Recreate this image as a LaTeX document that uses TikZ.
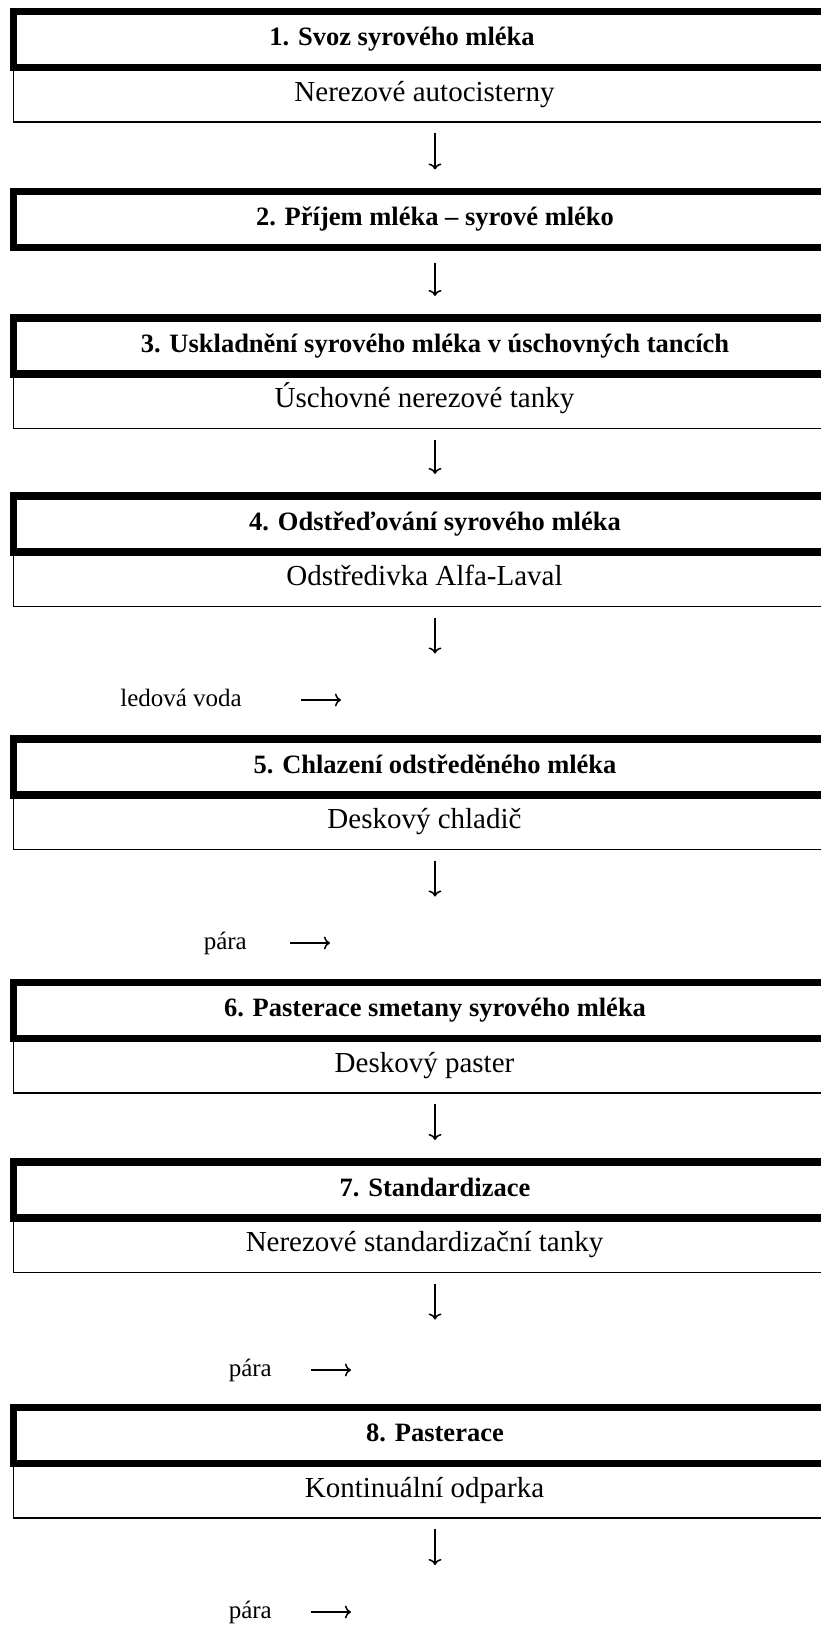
\documentclass[tikz,border=0pt]{standalone}
\usepackage{fontspec}
\setmainfont{Liberation Serif}
\usetikzlibrary{positioning,arrows.meta}

\begin{document}
\begin{tikzpicture}[x=1pt,y=-1pt,
	head/.style={draw,line width=7.5pt,outer sep=0pt,minimum width=843pt,minimum height=56pt,
		font=\fontsize{26.5}{30}\selectfont\bfseries,text height=18pt,text depth=6pt},
	detail/.style={draw,line width=1.6pt,outer sep=0pt,minimum width=822pt,minimum height=54.5pt,
		anchor=north west,font=\fontsize{29}{32}\selectfont,text height=19pt,text depth=6pt},
	side/.style={font=\fontsize{25}{30}\selectfont,anchor=base east,inner sep=0pt},
	flow/.style={line width=1.5pt,-{To[length=6pt,width=13pt]}}]
	\useasboundingbox (0,0) rectangle (821,1627);
	\clip (0,0) rectangle (821,1627);

	\foreach \n/\y/\txt in {1/39.5/{1. Svoz syrového mléka\hspace*{66pt}},
		2/219.5/{2. Příjem mléka – syrové mléko},
		3/346/{3. Uskladnění syrového mléka v úschovných tancích},
		4/524/{4. Odstřeďování syrového mléka},
		5/767/{5. Chlazení odstředěného mléka},
		6/1010.5/{6. Pasterace smetany syrového mléka},
		7/1190/{7. Standardizace},
		8/1435.5/{8. Pasterace}} {
		\node[head] (h\n) at (435,\y) {\txt};
	}
	\foreach \n/\txt in {1/Nerezové autocisterny, 3/Úschovné nerezové tanky,
		4/Odstředivka Alfa-Laval, 5/Deskový chladič, 6/Deskový paster,
		7/Nerezové standardizační tanky, 8/Kontinuální odparka} {
		\node[detail] (d\n) at (h\n.south west) {\txt};
	}

	\draw[flow,shorten <=11pt,shorten >=22pt] (h2|-d1.south) -- (h2);
	\draw[flow,shorten <=15pt,shorten >=22pt] (h2) -- (h3);
	\draw[flow,shorten <=11pt,shorten >=22pt] (h4|-d3.south) -- (h4);
	\draw[flow,shorten <=11pt,shorten >=22pt] (h7|-d6.south) -- (h7);

	% media coming in
	\foreach \n/\x/\a/\y/\txt in {4/242/301/700/ledová voda, 5/247/290/943/pára,
		7/272/311/1370/pára, 8/272/311/1612/pára} {
		\coordinate (v\n) at ([yshift=-11pt]h\n|-d\n.south);
		\coordinate (w\n) at ([yshift=-47pt]h\n|-d\n.south);
		\draw[flow] (v\n) -- (w\n);
		\node[side] (l\n) at (\x,\y+6) {\txt};
		\coordinate (r\n) at (\a,\y);
		\coordinate (s\n) at (\a+40,\y);
		\draw[flow] (r\n) -- (s\n);
	}
\end{tikzpicture}
\end{document}
